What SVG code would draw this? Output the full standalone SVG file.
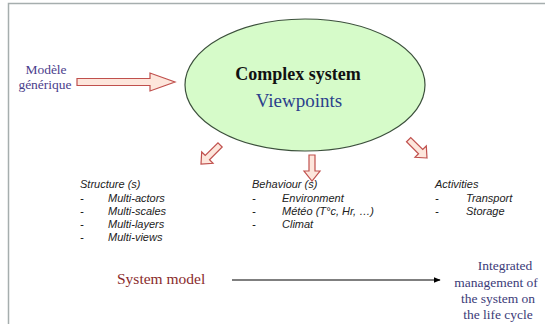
<svg xmlns="http://www.w3.org/2000/svg" width="545" height="324" viewBox="0 0 545 324">
<defs>
<style>
.big{fill:#fde6dc;stroke:#c0504d;stroke-width:1.2;stroke-linejoin:miter}
.it{font-family:"Liberation Sans",Arial,sans-serif;font-style:italic;font-size:11px;fill:#222}
.ser{font-family:"Liberation Serif","Times New Roman",serif}
</style>
<marker id="ah" viewBox="0 0 10 10" refX="9" refY="5" markerWidth="7" markerHeight="7" orient="auto" markerUnits="userSpaceOnUse">
<path d="M0,1 L10,5 L0,9 z" fill="#000"/>
</marker>
</defs>
<rect width="545" height="324" fill="#fff"/>
<path d="M8.5,324 V3.5 H545" fill="none" stroke="#a6aeae" stroke-width="1.5"/>

<g id="complex-system">
<ellipse cx="305" cy="85" rx="120" ry="66" fill="#d6fbc9" stroke="#3c503c" stroke-width="1.2"/>
<text class="ser" x="298" y="80" text-anchor="middle" font-size="18" font-weight="bold" fill="#111">Complex system</text>
<text class="ser" x="299" y="107" text-anchor="middle" font-size="19" fill="#2b3f8c">Viewpoints</text>
</g>

<g id="modele-generique">
<text class="ser" x="46" y="74" font-size="13.5" fill="#4b3e8c" text-anchor="middle">Modèle</text>
<text class="ser" x="45" y="89" font-size="13.5" fill="#4b3e8c" text-anchor="middle">générique</text>
</g>

<g id="structure">
<text class="it" x="80" y="188">Structure (s)</text>
<text class="it" x="80" y="202">-</text><text class="it" x="108" y="202">Multi-actors</text>
<text class="it" x="80" y="215">-</text><text class="it" x="108" y="215">Multi-scales</text>
<text class="it" x="80" y="228">-</text><text class="it" x="108" y="228">Multi-layers</text>
<text class="it" x="80" y="241">-</text><text class="it" x="108" y="241">Multi-views</text>
</g>

<g id="behaviour">
<text class="it" x="252" y="188">Behaviour (s)</text>
<text class="it" x="252" y="202">-</text><text class="it" x="282" y="202">Environment</text>
<text class="it" x="252" y="215">-</text><text class="it" x="282" y="215">Météo (T°c, Hr, …)</text>
<text class="it" x="252" y="228">-</text><text class="it" x="282" y="228">Climat</text>
</g>

<g id="activities">
<text class="it" x="435" y="188">Activities</text>
<text class="it" x="435" y="202">-</text><text class="it" x="466" y="202">Transport</text>
<text class="it" x="435" y="215">-</text><text class="it" x="466" y="215">Storage</text>
</g>

<g id="system-model">
<text class="ser" x="117" y="284" font-size="15.5" fill="#8a2b2b">System model</text>
</g>

<g id="integrated-management">
<text class="ser" font-size="13.5" fill="#3b3b78" text-anchor="middle"><tspan x="505" y="270">Integrated</tspan><tspan x="496" y="287">management of</tspan><tspan x="498" y="303">the system on</tspan><tspan x="498" y="319">the life cycle</tspan></text>
</g>

<g id="connectors">
<path class="big" d="M77,78.5 H150 V73 L175,82 L150,91 V85.5 H77 Z"/>
<g transform="translate(201,164) rotate(-45)">
<path class="big" d="M0,0 L9,-8 V-3 H27 V3 H9 V8 Z"/>
</g>
<path class="big" d="M309,155 H315 V171 H320 L312,181 L304,171 H309 Z"/>
<g transform="translate(427,158) rotate(225)">
<path class="big" d="M0,0 L9,-8 V-3 H26 V3 H9 V8 Z"/>
</g>
<line x1="232" y1="280" x2="440" y2="280" stroke="#000" stroke-width="1.2" marker-end="url(#ah)"/>
</g>
</svg>
